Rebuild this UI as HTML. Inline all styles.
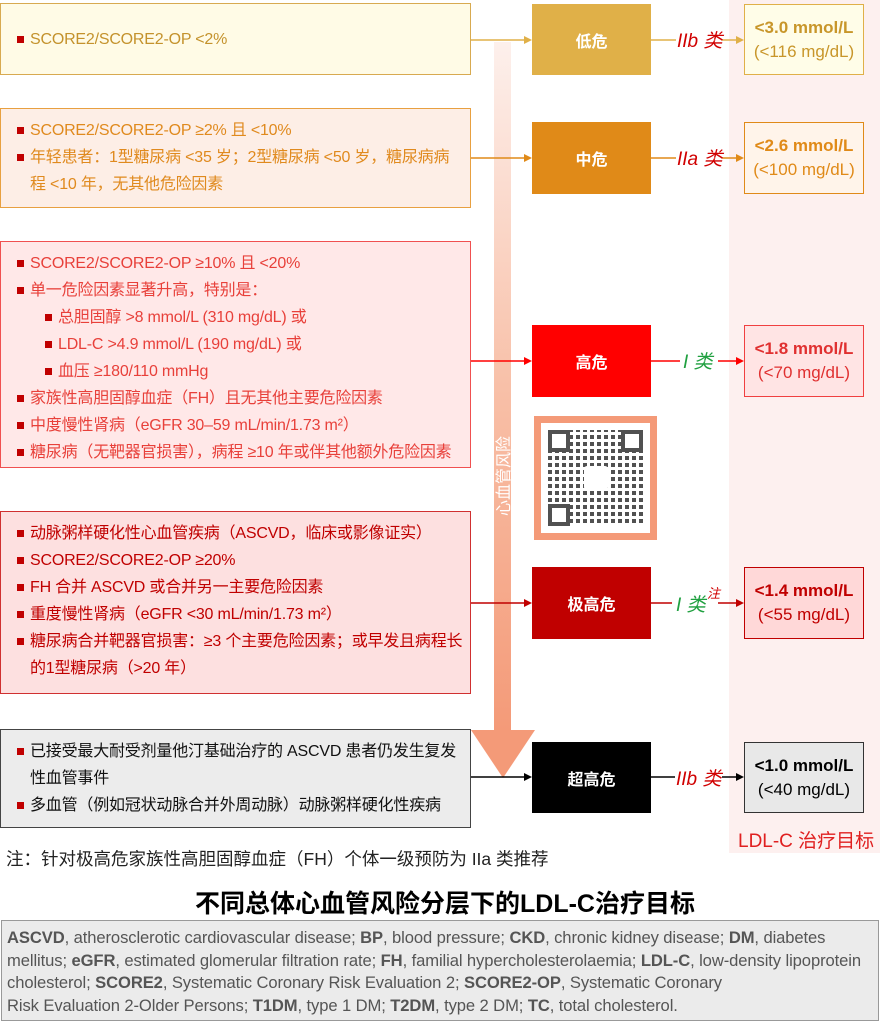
<!DOCTYPE html>
<html><head><meta charset="utf-8"><style>
body{margin:0;width:880px;height:1022px;position:relative;background:#fff;font-family:"Liberation Sans","Noto Sans CJK SC",sans-serif;overflow:hidden}
.a{position:absolute;box-sizing:border-box}
.lb{font-size:16px;line-height:27px;padding-left:16px}
.lb div{position:relative;padding-left:13px;white-space:nowrap;letter-spacing:-0.2px}
.lb div:before{content:"";position:absolute;left:0;top:10px;width:7px;height:7px;background:#c00000}
.lb div.c:before{display:none}
.lb div.s{margin-left:28px}
.rk{color:#fff;font-weight:bold;font-size:16px;display:flex;align-items:center;justify-content:center}
.tg{text-align:center;font-size:17px;line-height:24px;padding-top:11px;white-space:nowrap}
.tg b{display:block}
</style></head><body>
<div class="a" style="left:729px;top:0;width:151px;height:853px;background:#fdf0ef"></div>
<svg class="a" style="left:0;top:0" width="880" height="860">
<defs><linearGradient id="g" x1="0" y1="0" x2="0" y2="1"><stop offset="0" stop-color="#fdf0ec"/><stop offset="0.5" stop-color="#f8c0a8"/><stop offset="1" stop-color="#f49a78"/></linearGradient></defs>
<rect x="494" y="42" width="17" height="690" fill="url(#g)"/>
<polygon points="471,730 535,730 503,778" fill="#f49a78"/>
<g stroke-width="1.5" fill="none">
<line x1="471" y1="40" x2="528" y2="40" stroke="#e0b048"/>
<line x1="471" y1="158" x2="528" y2="158" stroke="#e08a18"/>
<line x1="471" y1="361" x2="528" y2="361" stroke="#ff0000"/>
<line x1="471" y1="603" x2="528" y2="603" stroke="#c00000"/>
<line x1="471" y1="777" x2="528" y2="777" stroke="#000"/>
<line x1="651" y1="40" x2="676" y2="40" stroke="#e0b048"/><line x1="722" y1="40" x2="740" y2="40" stroke="#e0b048"/>
<line x1="651" y1="158" x2="676" y2="158" stroke="#e08a18"/><line x1="722" y1="158" x2="740" y2="158" stroke="#e08a18"/>
<line x1="651" y1="361" x2="680" y2="361" stroke="#ff0000"/><line x1="718" y1="361" x2="740" y2="361" stroke="#ff0000"/>
<line x1="651" y1="603" x2="672" y2="603" stroke="#c00000"/><line x1="718" y1="603" x2="740" y2="603" stroke="#c00000"/>
<line x1="651" y1="777" x2="675" y2="777" stroke="#000"/><line x1="722" y1="777" x2="740" y2="777" stroke="#000"/>
</g>
<g>
<polygon points="532,40 524,36 524,44" fill="#e0b048"/><polygon points="744,40 736,36 736,44" fill="#e0b048"/>
<polygon points="532,158 524,154 524,162" fill="#e08a18"/><polygon points="744,158 736,154 736,162" fill="#e08a18"/>
<polygon points="532,361 524,357 524,365" fill="#ff0000"/><polygon points="744,361 736,357 736,365" fill="#ff0000"/>
<polygon points="532,603 524,599 524,607" fill="#c00000"/><polygon points="744,603 736,599 736,607" fill="#c00000"/>
<polygon points="532,777 524,773 524,781" fill="#000"/><polygon points="744,777 736,773 736,781" fill="#000"/>
</g>
<g font-size="19" font-style="italic" font-family="Liberation Sans,Noto Sans CJK SC,sans-serif">
<text x="677" y="47" fill="#d00000">IIb 类</text>
<text x="677" y="165" fill="#d00000">IIa 类</text>
<text x="683" y="368" fill="#20a040">I 类</text>
<text x="676" y="611" fill="#20a040">I 类</text>
<text x="676" y="785" fill="#d00000">IIb 类</text>
</g>
<text x="707" y="598" fill="#d00000" font-size="13" font-style="italic" font-family="Liberation Sans,Noto Sans CJK SC,sans-serif">注</text>
<text transform="translate(509,516) rotate(-90)" fill="#fff" font-size="16" font-family="Liberation Sans,Noto Sans CJK SC,sans-serif">心血管风险</text>
</svg>

<div class="a lb" style="left:0;top:3px;width:471px;height:72px;background:#fffbe6;border:1.5px solid #d8aa50;color:#c4922c;padding-top:22px">
<div>SCORE2/SCORE2-OP &lt;2%</div></div>
<div class="a lb" style="left:0;top:108px;width:471px;height:100px;background:#fdeee6;border:1.5px solid #e8a040;color:#e08a1e;padding-top:8px">
<div>SCORE2/SCORE2-OP ≥2% 且 &lt;10%</div>
<div>年轻患者：1型糖尿病 &lt;35 岁；2型糖尿病 &lt;50 岁，糖尿病病</div>
<div class="c">程 &lt;10 年，无其他危险因素</div></div>
<div class="a lb" style="left:0;top:241px;width:471px;height:227px;background:#ffe8e8;border:1.5px solid #f05050;color:#e8403a;padding-top:8px">
<div>SCORE2/SCORE2-OP ≥10% 且 &lt;20%</div>
<div>单一危险因素显著升高，特别是：</div>
<div class="s">总胆固醇 &gt;8 mmol/L (310 mg/dL) 或</div>
<div class="s">LDL-C &gt;4.9 mmol/L (190 mg/dL) 或</div>
<div class="s">血压 ≥180/110 mmHg</div>
<div>家族性高胆固醇血症（FH）且无其他主要危险因素</div>
<div>中度慢性肾病（eGFR 30–59 mL/min/1.73 m²）</div>
<div>糖尿病（无靶器官损害），病程 ≥10 年或伴其他额外危险因素</div></div>
<div class="a lb" style="left:0;top:511px;width:471px;height:183px;background:#fde0e0;border:1.5px solid #d03030;color:#c00000;padding-top:8px">
<div>动脉粥样硬化性心血管疾病（ASCVD，临床或影像证实）</div>
<div>SCORE2/SCORE2-OP ≥20%</div>
<div>FH 合并 ASCVD 或合并另一主要危险因素</div>
<div>重度慢性肾病（eGFR &lt;30 mL/min/1.73 m²）</div>
<div>糖尿病合并靶器官损害：≥3 个主要危险因素；或早发且病程长</div>
<div class="c">的1型糖尿病（&gt;20 年）</div></div>
<div class="a lb" style="left:0;top:729px;width:471px;height:99px;background:#ececec;border:1.5px solid #444;color:#111;padding-top:8px">
<div>已接受最大耐受剂量他汀基础治疗的 ASCVD 患者仍发生复发</div>
<div class="c">性血管事件</div>
<div>多血管（例如冠状动脉合并外周动脉）动脉粥样硬化性疾病</div></div>

<div class="a rk" style="left:532px;top:4px;width:119px;height:71px;background:#e0b048">低危</div>
<div class="a rk" style="left:532px;top:122px;width:119px;height:72px;background:#e08a18">中危</div>
<div class="a rk" style="left:532px;top:325px;width:119px;height:72px;background:#ff0000">高危</div>
<div class="a rk" style="left:532px;top:567px;width:119px;height:72px;background:#c00000">极高危</div>
<div class="a rk" style="left:532px;top:742px;width:119px;height:71px;background:#000">超高危</div>

<div class="a tg" style="left:744px;top:4px;width:120px;height:71px;background:#fffde8;border:1.5px solid #e0b048;color:#c8962a"><b>&lt;3.0 mmol/L</b>(&lt;116 mg/dL)</div>
<div class="a tg" style="left:744px;top:122px;width:120px;height:72px;background:#fff4ea;border:1.5px solid #e08a18;color:#e08a18"><b>&lt;2.6 mmol/L</b>(&lt;100 mg/dL)</div>
<div class="a tg" style="left:744px;top:325px;width:120px;height:72px;background:#ffe4e4;border:1.5px solid #f04040;color:#e03030"><b>&lt;1.8 mmol/L</b>(&lt;70 mg/dL)</div>
<div class="a tg" style="left:744px;top:567px;width:120px;height:72px;background:#ffd8d8;border:1.5px solid #c00000;color:#c00000"><b>&lt;1.4 mmol/L</b>(&lt;55 mg/dL)</div>
<div class="a tg" style="left:744px;top:742px;width:120px;height:71px;background:#e8e8e8;border:1.5px solid #333;color:#000"><b>&lt;1.0 mmol/L</b>(&lt;40 mg/dL)</div>
<div class="a" style="left:738px;top:826px;font-size:19px;color:#e02020;white-space:nowrap">LDL-C 治疗目标</div>

<div class="a" style="left:534px;top:416px;width:123px;height:124px;background:#f49a78;padding:7px">
<div style="width:109px;height:110px;background:#fff;padding:7px;box-sizing:border-box">
<div style="width:95px;height:96px;background:repeating-linear-gradient(90deg,#333 0 4px,#fff 4px 7px),#333;position:relative;opacity:.85">
<div style="position:absolute;inset:0;background:repeating-linear-gradient(0deg,#fff 0 3px,transparent 3px 7px)"></div>
<div style="position:absolute;left:0;top:0;width:22px;height:22px;border:4px solid #333;background:#fff;box-sizing:border-box"></div>
<div style="position:absolute;right:0;top:0;width:22px;height:22px;border:4px solid #333;background:#fff;box-sizing:border-box"></div>
<div style="position:absolute;left:0;bottom:0;width:22px;height:22px;border:4px solid #333;background:#fff;box-sizing:border-box"></div>
<div style="position:absolute;left:36px;top:36px;width:24px;height:24px;background:#fff;border-radius:3px"></div>
</div></div></div>

<div class="a" style="left:6px;top:846px;font-size:17.5px;color:#222;white-space:nowrap">注：针对极高危家族性高胆固醇血症（FH）个体一级预防为 IIa 类推荐</div>
<div class="a" style="left:0;top:884px;width:890px;text-align:center;font-size:25px;font-weight:bold;color:#000;white-space:nowrap">不同总体心血管风险分层下的LDL-C治疗目标</div>
<div class="a" style="left:1px;top:920px;width:878px;height:101px;background:#ebebeb;border:1.5px solid #999;color:#555;font-size:16.6px;line-height:22.5px;padding:6px 0 0 5px;white-space:nowrap;letter-spacing:-0.1px;overflow:hidden">
<b>ASCVD</b>, atherosclerotic cardiovascular disease; <b>BP</b>, blood pressure; <b>CKD</b>, chronic kidney disease; <b>DM</b>, diabetes<br>
mellitus; <b>eGFR</b>, estimated glomerular filtration rate; <b>FH</b>, familial hypercholesterolaemia; <b>LDL-C</b>, low-density lipoprotein<br>
cholesterol; <b>SCORE2</b>, Systematic Coronary Risk Evaluation 2; <b>SCORE2-OP</b>, Systematic Coronary<br>
Risk Evaluation 2-Older Persons; <b>T1DM</b>, type 1 DM; <b>T2DM</b>, type 2 DM; <b>TC</b>, total cholesterol.
</div>
</body></html>
